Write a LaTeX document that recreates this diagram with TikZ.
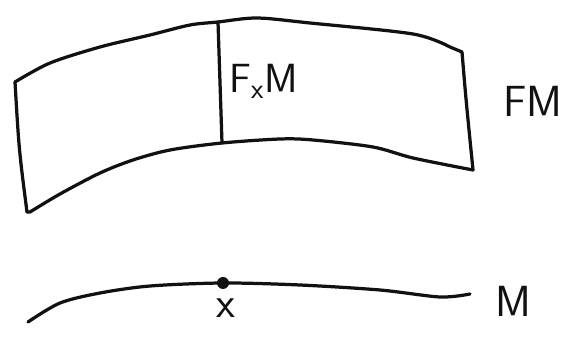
\documentclass[tikz,border=0pt]{standalone}
\usepackage{xcolor}
\definecolor{sketchink}{HTML}{111111}

\begin{document}
\begin{tikzpicture}[x=0.025cm, y=-0.025cm,
  point/.style={coordinate},
  stroke/.style={draw=sketchink, line width=2.3pt, line cap=round, line join=round},
  dotmark/.style={circle, fill=sketchink, inner sep=0pt, minimum size=0.3cm},
  label/.style={text=sketchink, inner sep=0pt, font=\sffamily\fontsize{31}{36}\selectfont}]
\useasboundingbox (0,0) rectangle (573,339);
% corners of the bundle and the fibre
\node[point] (tl) at (15,82)  {};
\node[point] (tr) at (462,52)  {};
\node[point] (br) at (473,170)  {};
\node[point] (bl) at (27,212)  {};
\node[point] (ft) at (218,22)  {};
\node[point] (fb) at (222,143)  {};
% base curve
\node[point] (m0) at (28,322)  {};
\node[dotmark] (x) at (223,283)  {};
\node[point] (m1) at (470,294)  {};
% labels
\node[label, anchor=base west, font=\sffamily\fontsize{29}{32}\selectfont] (fxm) at (229,93)  {F\textsubscript{x}M};
\node[label, anchor=base west] (fm) at (503,117)  {FM};
\node[label, anchor=base west] (m) at (495,317)  {M};
\node[label, anchor=base] (xl) at (226,318)  {x};
% bundle
\draw[stroke] (tl) plot[smooth, tension=0.5] coordinates {(15,82) (50,63) (100,47) (150,35) (190,25) (218,22) (257,18) (310,23) (413,34) (450,47)} -- (tr);
\draw[stroke] (tr) .. controls (466,100) .. (br);
\draw[stroke] plot[smooth, tension=0.5] coordinates {(473,170) (413,158) (373,147) (313,140) (280,139) (222,143) (170,150) (133,160) (100,173) (60,194) (30,212)} -- (bl);
\draw[stroke] (bl) .. controls (19,150) .. (tl);
\draw[stroke] (ft) -- (fb);
% base
\draw[stroke] plot[smooth, tension=0.5] coordinates {(28,322) (60,303) (100,293) (150,286) (223,283) (300,285) (380,290) (440,297) (470,294)};
\end{tikzpicture}
\end{document}
